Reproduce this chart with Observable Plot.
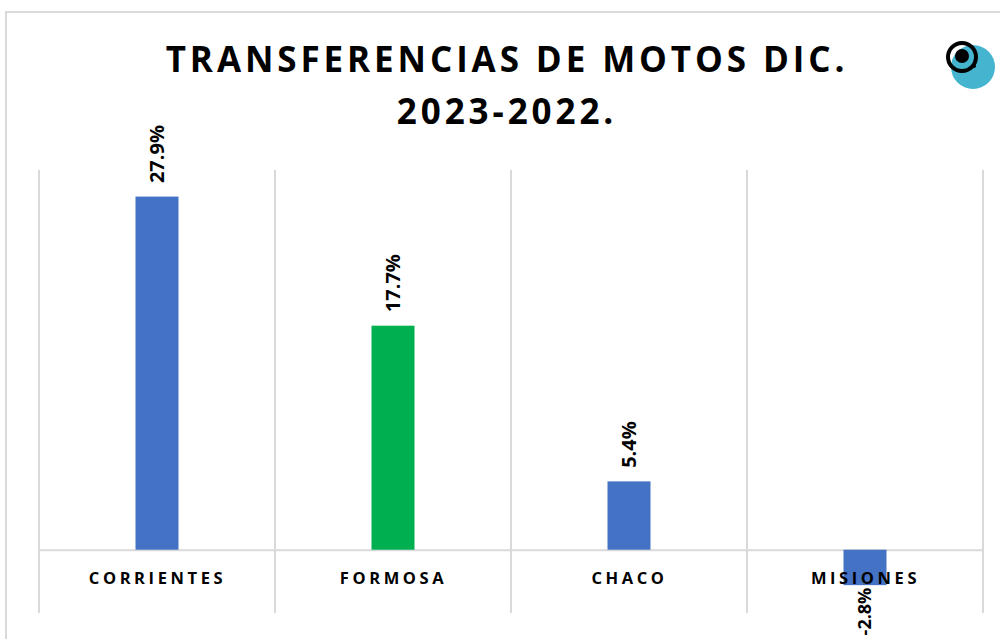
<!DOCTYPE html>
<html>
<head>
<meta charset="utf-8">
<script src="https://cdn.jsdelivr.net/npm/d3@7"></script>
<script src="https://cdn.jsdelivr.net/npm/@observablehq/plot@0.6"></script>
<style>
  html, body { margin: 0; padding: 0; background: #fff; }
  #wrap { position: relative; width: 1000px; height: 639px; overflow: hidden; font-family: "Open Sans", sans-serif; }
  #frame { position: absolute; left: 5px; top: 11px; width: 1000px; height: 640px; border-left: 2px solid #d9d9d9; border-top: 2px solid #d9d9d9; box-sizing: border-box; }
  #title { position: absolute; left: -3px; top: 33px; width: 1020px; text-align: center; font-weight: 700; font-size: 35px; letter-spacing: 3.9px; line-height: 52px; color: #000; }
  #logo { position: absolute; left: 944px; top: 38px; }
  #chart { position: absolute; left: 0; top: 0; }
  #chart svg { overflow: visible; }
</style>
</head>
<body>
<div id="wrap">
  <div id="frame"></div>
  <div id="chart"></div>
  <div id="title">TRANSFERENCIAS DE MOTOS DIC.<br>2023-2022.</div>
  <svg id="logo" width="56" height="52" viewBox="0 0 56 52">
    <circle cx="29" cy="29" r="22" fill="#44b4cf"/>
    <circle cx="18" cy="19" r="14" fill="none" stroke="#000" stroke-width="4"/>
    <circle cx="18" cy="18" r="7" fill="#000"/>
    <circle cx="30" cy="28" r="2" fill="#000"/>
  </svg>
</div>
<script>
const categories = ["CORRIENTES", "FORMOSA", "CHACO", "MISIONES"];
const values = [27.9, 17.7, 5.4, -2.8];
const colors = ["#4472C4", "#00B050", "#4472C4", "#4472C4"];
const labels = ["27.9%", "17.7%", "5.4%", "-2.8%"];

const data = categories.map((c, i) => ({cat: c, value: values[i], color: colors[i], label: labels[i]}));

const chart = Plot.plot({
  width: 1000,
  height: 639,
  marginTop: 170,
  marginBottom: 26,
  marginLeft: 39,
  marginRight: 17,
  x: {domain: categories, padding: 0, axis: null},
  y: {domain: [-5, 30], axis: null},
  marks: [
    Plot.ruleY([0], {stroke: "#d9d9d9", strokeWidth: 2}),
    Plot.barY(data, {x: "cat", y: "value", fill: "color", insetLeft: 96.5, insetRight: 96.5}),
    Plot.text(data, {x: "cat", y: 0, text: "cat", dy: 29, dx: 0, fontSize: 16.5, fontWeight: 700, fill: "#000", fontFamily: "Open Sans"}),
    Plot.text(data.filter(d => d.value >= 0), {x: "cat", y: "value", text: "label", rotate: -90, textAnchor: "start", dy: -14, fontSize: 20, fontWeight: 700, fill: "#000", fontFamily: "Open Sans"}),
    Plot.text(data.filter(d => d.value < 0), {x: "cat", y: "value", text: "label", rotate: -90, textAnchor: "end", dy: 2, fontSize: 18, fontWeight: 700, fill: "#000", fontFamily: "Open Sans"})
  ]
});

const svg = d3.select(chart);
// letter-spaced category labels
svg.selectAll("text").filter(function () { return categories.includes(this.textContent); })
  .style("letter-spacing", "3.6px");

// category separator gridlines at band edges, from the x scale
const xs = chart.scale("x");
const ys = chart.scale("y");
const edges = categories.map(c => xs.apply(c)).concat([xs.apply(categories[categories.length - 1]) + xs.bandwidth]);
svg.insert("g", ":first-child")
  .selectAll("line").data(edges).join("line")
  .attr("x1", d => d).attr("x2", d => d)
  .attr("y1", ys.apply(30)).attr("y2", ys.apply(-5))
  .attr("stroke", "#d9d9d9").attr("stroke-width", 2);

document.getElementById("chart").appendChild(chart);
</script>
</body>
</html>
